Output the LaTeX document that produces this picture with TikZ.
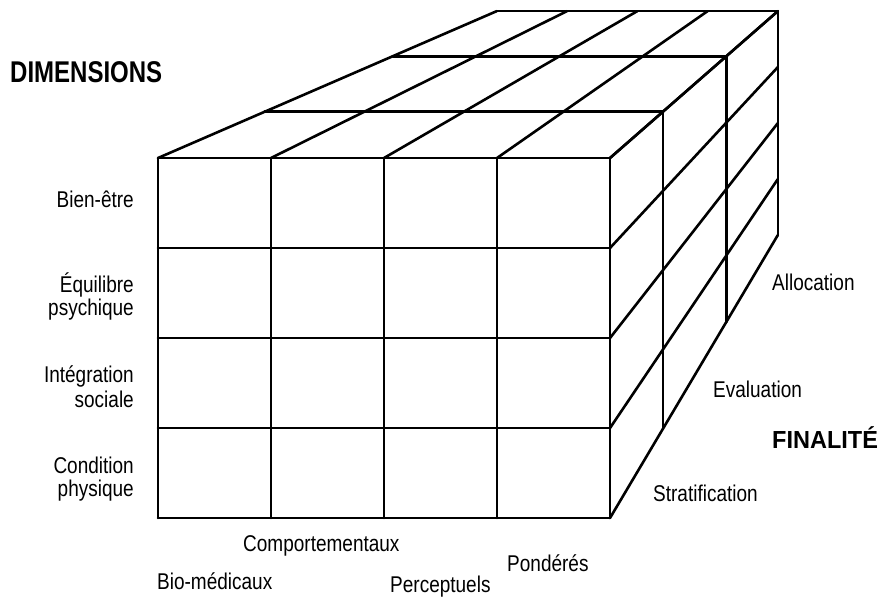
\documentclass[tikz,border=0pt]{standalone}
\usepackage{fontspec}
\usepackage{graphicx}
\setmainfont{Liberation Sans}
\usetikzlibrary{calc}
\newcommand\vsc[2][1.2]{\scalebox{1}[#1]{#2}}
\begin{document}
\begin{tikzpicture}[x=1pt,y=-1pt,
  gridline/.style={line width=2.6pt, line cap=round, line join=round, black},
  lbl/.style={font=\fontsize{19}{22}\selectfont, inner sep=0pt},
  lble/.style={lbl, anchor=base east},
  lblw/.style={lbl, anchor=base west},
  bigl/.style={font=\fontsize{24}{28}\selectfont\bfseries, inner sep=0pt, anchor=base west}]
\useasboundingbox (0,0) rectangle (883,603);
\coordinate (vp) at (1054,-230.5);
% front grid corners
\foreach \i in {0,...,4}{
  \foreach \j in {0,...,4}{
    \coordinate (f-\i-\j) at ({158+113*\i},{158+90*\j});
  }
}
% depth points
\foreach \i in {0,...,4}{
  \foreach \j in {0,...,4}{
    \coordinate (p-\i-\j-0) at (f-\i-\j);
    \foreach \k/\d in {1/0.119,2/0.262,3/0.378}{
      \coordinate (p-\i-\j-\k) at ($(f-\i-\j)!\d!(vp)$);
    }
  }
}
% front face
\foreach \i in {0,...,4}{ \draw[gridline] (f-\i-0) -- (f-\i-4); }
\foreach \j in {0,...,4}{ \draw[gridline] (f-0-\j) -- (f-4-\j); }
% top face
\foreach \i in {0,...,4}{ \draw[gridline] (p-\i-0-0) -- (p-\i-0-3); }
\foreach \k in {1,2,3}{ \draw[gridline] (p-0-0-\k) -- (p-4-0-\k); }
% right face
\foreach \j in {0,...,4}{ \draw[gridline] (p-4-\j-0) -- (p-4-\j-3); }
\foreach \k in {1,2,3}{ \draw[gridline] (p-4-0-\k) -- (p-4-4-\k); }
% titles
\node[bigl] (dim) at (10,82) {\vsc[1.25]{DIMENSIONS}};
\node[bigl, font=\fontsize{23.5}{28}\selectfont\bfseries] (fin) at (772,448) {\vsc[1.05]{FINALITÉ}};
% left labels
\node[lble] (l1) at (134,207) {\vsc{Bien-être}};
\node[lble] (l2a) at (134,292) {\vsc{Équilibre}};
\node[lble] (l2b) at (134,315) {\vsc{psychique}};
\node[lble] (l3a) at (134,382) {\vsc{Intégration}};
\node[lble] (l3b) at (134,407) {\vsc{sociale}};
\node[lble] (l4a) at (134,473) {\vsc{Condition}};
\node[lble] (l4b) at (134,496) {\vsc{physique}};
% right labels
\node[lblw] (r1) at (772,290) {\vsc{Allocation}};
\node[lblw] (r2) at (713,397) {\vsc{Evaluation}};
\node[lblw] (r3) at (653,501) {\vsc{Stratification}};
% bottom labels
\node[lblw] (b1) at (243,551) {\vsc{Comportementaux}};
\node[lblw] (b2) at (507,571) {\vsc{Pondérés}};
\node[lblw] (b3) at (157,589) {\vsc{Bio-médicaux}};
\node[lblw] (b4) at (390,592) {\vsc{Perceptuels}};
\end{tikzpicture}
\end{document}
